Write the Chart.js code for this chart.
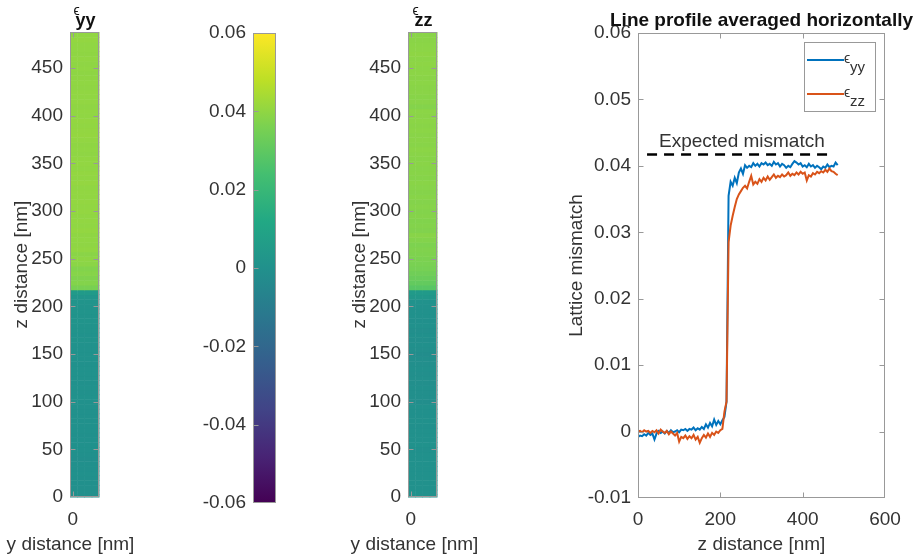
<!DOCTYPE html>
<html>
<head>
<meta charset="utf-8">
<script src="https://cdn.jsdelivr.net/npm/chart.js@4.4.1/dist/chart.umd.min.js"></script>
<style>
  html, body { margin: 0; padding: 0; background: #fff; }
  #wrap { position: relative; width: 914px; height: 558px; overflow: hidden; }
  canvas { position: absolute; top: 0; }
</style>
</head>
<body>
<div id="wrap">
  <canvas id="mapYY" width="190" height="558" style="left:0px"></canvas>
  <canvas id="cbar" width="120" height="558" style="left:180px"></canvas>
  <canvas id="mapZZ" width="200" height="558" style="left:320px"></canvas>
  <canvas id="profile" width="394" height="558" style="left:520px"></canvas>
</div>
<script>
// ---- data (z in nm, strain values) ----
const zNm = [
  0, 5, 10, 15, 20, 25, 30, 35, 40, 45,
  50, 55, 60, 65, 70, 75, 80, 85, 90, 95,
  100, 105, 110, 115, 120, 125, 130, 135, 140, 145,
  150, 155, 160, 165, 170, 175, 180, 185, 190, 195,
  200, 205, 210, 215, 220, 225, 230, 235, 240, 245,
  250, 255, 260, 265, 270, 275, 280, 285, 290, 295,
  300, 305, 310, 315, 320, 325, 330, 335, 340, 345,
  350, 355, 360, 365, 370, 375, 380, 385, 390, 395,
  400, 405, 410, 415, 420, 425, 430, 435, 440, 445,
  450, 455, 460, 465, 470, 475, 480, 485
];
const epsYY = [
  -0.0008, -0.0006, -0.0007, -0.0004, -0.0006, -0.0002, -0.0005, -0.0003, -0.0012, -0.0003,
  0.0001, -0.0002, 0.0000, -0.0003, 0.0001, -0.0002, 0.0002, -0.0001, 0.0000, 0.0002,
  -0.0001, 0.0003, 0.0002, 0.0004, 0.0001, 0.0004, 0.0003, 0.0006, 0.0002, 0.0005,
  0.0003, 0.0007, 0.0004, 0.0011, 0.0006, 0.0013, 0.0008, 0.0018, 0.0010, 0.0016,
  0.0011, 0.0017, 0.0022, 0.0045, 0.0355, 0.0376, 0.0370, 0.0382, 0.0374, 0.0390,
  0.0396, 0.0388, 0.0401, 0.0397, 0.0400, 0.0398, 0.0404, 0.0400, 0.0403, 0.0399,
  0.0404, 0.0402, 0.0405, 0.0401, 0.0403, 0.0400, 0.0406, 0.0402, 0.0404, 0.0399,
  0.0403, 0.0401, 0.0397, 0.0400, 0.0398, 0.0403, 0.0407, 0.0405, 0.0402, 0.0404,
  0.0399, 0.0401, 0.0398, 0.0403, 0.0399, 0.0401, 0.0397, 0.0400, 0.0398, 0.0395,
  0.0399, 0.0397, 0.0402, 0.0398, 0.0400, 0.0399, 0.0405, 0.0401
];
const epsZZ = [
  0.0000, 0.0001, -0.0001, 0.0002, 0.0000, 0.0001, -0.0002, 0.0001, -0.0001, 0.0002,
  -0.0003, 0.0003, 0.0000, -0.0002, 0.0001, -0.0004, 0.0000, -0.0003, -0.0006, -0.0002,
  -0.0015, -0.0008, -0.0010, -0.0006, -0.0011, -0.0007, -0.0010, -0.0005, -0.0012, -0.0008,
  -0.0017, -0.0010, -0.0005, -0.0009, -0.0003, -0.0008, -0.0002, -0.0005, 0.0000, -0.0002,
  0.0002, 0.0004, 0.0030, 0.0045, 0.0285, 0.0310, 0.0325, 0.0338, 0.0350, 0.0357,
  0.0362, 0.0367, 0.0370, 0.0366, 0.0376, 0.0385, 0.0372, 0.0376, 0.0373, 0.0380,
  0.0376, 0.0382, 0.0378, 0.0384, 0.0379, 0.0383, 0.0387, 0.0382, 0.0385, 0.0383,
  0.0387, 0.0384, 0.0386, 0.0390, 0.0385, 0.0388, 0.0386, 0.0390, 0.0387, 0.0391,
  0.0388, 0.0390, 0.0378, 0.0386, 0.0384, 0.0389, 0.0387, 0.0391, 0.0389, 0.0392,
  0.0390, 0.0394, 0.0391, 0.0396, 0.0392, 0.0391, 0.0388, 0.0386
];
const seriesNames = ['yy', 'zz'];
const expectedZ = [22, 461];
const expectedMismatch = [0.0417, 0.0417];
const expectedLabel = 'Expected mismatch';
const expectedLabelAt = [51, 0.0429];

// map axes / colour scale
const zExtent = 488;
const mapColumnsNm = [-3, 4.6, 12.2, 19.9, 27.5];
const mapZTicks = [0, 50, 100, 150, 200, 250, 300, 350, 400, 450];
const mapYTicks = [0];
const colorLimits = [-0.06, 0.06];
const cbarTicks = [-0.06, -0.04, -0.02, 0, 0.02, 0.04, 0.06];
const profileXTicks = [0, 200, 400, 600];
const profileYTicks = [-0.01, 0, 0.01, 0.02, 0.03, 0.04, 0.05, 0.06];

// ---- style ----
const FONT = "'Liberation Sans', Arial, sans-serif";
const TEXT = '#333333';
const AXIS = '#999999';
const BLUE = '#0072BD';
const ORANGE = '#D95319';
const EPS = '\u03F5';
const TICK = 5;

Chart.defaults.font.family = FONT;
Chart.defaults.font.size = 19;
Chart.defaults.color = TEXT;

const VIRIDIS = ['#440154', '#482475', '#414487', '#355f8d', '#2a788e', '#21918c',
                 '#22a884', '#44bf70', '#7ad151', '#bddf26', '#fde725'];
function hexRgb(h) { return [1, 3, 5].map(i => parseInt(h.substr(i, 2), 16)); }
function viridis(t) {
  t = Math.min(1, Math.max(0, t));
  const f = t * 10, i = Math.min(9, Math.floor(f)), r = f - i;
  const a = hexRgb(VIRIDIS[i]), b = hexRgb(VIRIDIS[i + 1]);
  return 'rgb(' + a.map((v, k) => Math.round(v + (b[k] - v) * r)).join(',') + ')';
}
function colorFor(v) { return viridis((v - colorLimits[0]) / (colorLimits[1] - colorLimits[0])); }

function fixedTicks(values) { return s => { s.ticks = values.map(v => ({ value: v })); }; }
function fmtStrain(v) { return v === 0 ? '0' : v.toFixed(2); }
const noGrid = { display: false, drawTicks: false };

// box round the axes plus matlab style inward ticks
function framePlugin(sides) {
  return {
    id: 'frame',
    afterDatasetsDraw(chart) {
      const { ctx, chartArea: a } = chart;
      const L = Math.round(a.left) + 0.5, R = Math.round(a.right) - 0.5;
      const T = Math.round(a.top) + 0.5, B = Math.round(a.bottom) - 0.5;
      ctx.save();
      ctx.strokeStyle = AXIS;
      ctx.lineWidth = 1;
      ctx.strokeRect(L, T, R - L, B - T);
      ctx.beginPath();
      const xs = chart.scales.x, ys = chart.scales.y;
      if (sides.x) xs.ticks.forEach(t => {
        const p = Math.round(xs.getPixelForValue(t.value)) + 0.5;
        if (p < L + 2 || p > R - 2) return;
        if (sides.x.includes('bottom')) { ctx.moveTo(p, B); ctx.lineTo(p, B - TICK); }
        if (sides.x.includes('top')) { ctx.moveTo(p, T); ctx.lineTo(p, T + TICK); }
      });
      if (sides.y) ys.ticks.forEach(t => {
        const p = Math.round(ys.getPixelForValue(t.value)) + 0.5;
        if (p < T + 2 || p > B - 2) return;
        if (sides.y.includes('left')) { ctx.moveTo(L, p); ctx.lineTo(L + TICK, p); }
        if (sides.y.includes('right')) { ctx.moveTo(R, p); ctx.lineTo(R - TICK, p); }
      });
      ctx.stroke();
      ctx.restore();
    }
  };
}

function heatmapPlugin(values) {
  return {
    id: 'heatmap',
    beforeDatasetsDraw(chart) {
      const { ctx } = chart;
      const xs = chart.scales.x, ys = chart.scales.y;
      ctx.save();
      for (let i = 0; i < zNm.length; i++) {
        const z0 = i === 0 ? ys.min : (zNm[i - 1] + zNm[i]) / 2;
        const z1 = i === zNm.length - 1 ? ys.max : (zNm[i] + zNm[i + 1]) / 2;
        const yTop = ys.getPixelForValue(z1), yBot = ys.getPixelForValue(z0);
        ctx.fillStyle = colorFor(values[i]);
        for (let c = 0; c < mapColumnsNm.length - 1; c++) {
          const x0 = xs.getPixelForValue(mapColumnsNm[c]);
          const x1 = xs.getPixelForValue(mapColumnsNm[c + 1]);
          ctx.fillRect(x0, yTop, x1 - x0 + 0.5, yBot - yTop + 0.5);
        }
      }
      ctx.restore();
    }
  };
}

function mapTextPlugin(sub, labelShift) {
  return {
    id: 'mapText',
    afterDraw(chart) {
      const { ctx, chartArea: a } = chart;
      const cx = (a.left + a.right) / 2;
      ctx.save();
      ctx.fillStyle = '#111';
      ctx.textAlign = 'left';
      ctx.textBaseline = 'alphabetic';
      ctx.font = 'bold 18px ' + FONT;
      const w = ctx.measureText(sub).width;
      const sx = cx - w / 2 + 1;
      ctx.fillText(sub, sx, 26);
      ctx.font = '14px ' + FONT;
      ctx.fillText(EPS, sx - 2, 15);
      ctx.fillStyle = TEXT;
      ctx.font = '19px ' + FONT;
      ctx.textAlign = 'center';
      ctx.textBaseline = 'middle';
      ctx.fillText('y distance [nm]', cx + labelShift, 545);
      ctx.restore();
    }
  };
}

const noInteraction = {
  responsive: false, animation: false, devicePixelRatio: 1, events: [],
};

function makeMap(id, values, sub, padL, padR, labelShift) {
  return new Chart(document.getElementById(id), {
    type: 'scatter',
    data: { datasets: [] },
    options: {
      ...noInteraction,
      layout: { padding: { left: padL, right: padR, top: 32, bottom: 0 } },
      plugins: { legend: { display: false }, tooltip: { enabled: false } },
      scales: {
        x: {
          type: 'linear', min: mapColumnsNm[0], max: mapColumnsNm[mapColumnsNm.length - 1],
          afterBuildTicks: fixedTicks(mapYTicks),
          afterFit: s => { s.height = 61; },
          grid: noGrid, border: { display: false },
          ticks: { padding: 11, maxRotation: 0, autoSkip: false }
        },
        y: {
          type: 'linear', min: 0, max: zExtent,
          afterBuildTicks: fixedTicks(mapZTicks),
          afterFit: s => { s.width = 70; },
          grid: noGrid, border: { display: false },
          ticks: { padding: 7, autoSkip: false },
          title: { display: true, text: 'z distance [nm]', padding: { top: 10, bottom: 0 } }
        }
      }
    },
    plugins: [heatmapPlugin(values), framePlugin({ x: ['top', 'bottom'], y: ['left', 'right'] }),
              mapTextPlugin(sub, labelShift)]
  });
}

makeMap('mapYY', epsYY, seriesNames[0], 0, 91, -14);
makeMap('mapZZ', epsZZ, seriesNames[1], 18, 83, -8);

// colour bar
new Chart(document.getElementById('cbar'), {
  type: 'scatter',
  data: { datasets: [] },
  options: {
    ...noInteraction,
    layout: { padding: { left: 0, right: 24, top: 33, bottom: 55 } },
    plugins: { legend: { display: false }, tooltip: { enabled: false } },
    scales: {
      x: { display: false, min: 0, max: 1 },
      y: {
        type: 'linear', min: colorLimits[0], max: colorLimits[1],
        afterBuildTicks: fixedTicks(cbarTicks),
        afterFit: s => { s.width = 73; },
        grid: noGrid, border: { display: false },
        ticks: { padding: 7, autoSkip: false, callback: fmtStrain }
      }
    }
  },
  plugins: [{
    id: 'gradient',
    beforeDatasetsDraw(chart) {
      const { ctx, chartArea: a } = chart;
      const ys = chart.scales.y;
      const g = ctx.createLinearGradient(0, ys.getPixelForValue(colorLimits[0]), 0, ys.getPixelForValue(colorLimits[1]));
      VIRIDIS.forEach((c, i) => g.addColorStop(i / (VIRIDIS.length - 1), c));
      ctx.save();
      ctx.fillStyle = g;
      ctx.fillRect(a.left, a.top, a.right - a.left, a.bottom - a.top);
      ctx.restore();
    }
  }, framePlugin({ y: ['left'] })]
});

// line profile
new Chart(document.getElementById('profile'), {
  type: 'line',
  data: {
    datasets: [
      { label: seriesNames[0], data: zNm.map((z, i) => ({ x: z, y: epsYY[i] })),
        borderColor: BLUE, borderWidth: 2, pointRadius: 0, tension: 0, order: 1 },
      { label: seriesNames[1], data: zNm.map((z, i) => ({ x: z, y: epsZZ[i] })),
        borderColor: ORANGE, borderWidth: 2, pointRadius: 0, tension: 0, order: 0 },
      { label: 'expected', data: expectedZ.map((z, i) => ({ x: z, y: expectedMismatch[i] })),
        borderColor: '#000', borderWidth: 2.5, borderDash: [10, 7], pointRadius: 0, order: 2 }
    ]
  },
  options: {
    ...noInteraction,
    layout: { padding: { left: 0, right: 29, top: 33, bottom: 0 } },
    plugins: { legend: { display: false }, tooltip: { enabled: false } },
    scales: {
      x: {
        type: 'linear', min: 0, max: 600,
        afterBuildTicks: fixedTicks(profileXTicks),
        afterFit: s => { s.height = 60; },
        grid: noGrid, border: { display: false },
        ticks: { padding: 10, maxRotation: 0, autoSkip: false },
        title: { display: true, text: 'z distance [nm]', padding: { top: 0, bottom: 2 } }
      },
      y: {
        type: 'linear', min: -0.01, max: 0.06,
        afterBuildTicks: fixedTicks(profileYTicks),
        afterFit: s => { s.width = 118; },
        grid: noGrid, border: { display: false },
        ticks: { padding: 7, autoSkip: false, callback: fmtStrain },
        title: { display: true, text: 'Lattice mismatch', padding: { top: 45, bottom: 0 } }
      }
    }
  },
  plugins: [framePlugin({ x: ['top', 'bottom'], y: ['left', 'right'] }), {
    id: 'profileText',
    afterDraw(chart) {
      const { ctx, chartArea: a } = chart;
      const xs = chart.scales.x, ys = chart.scales.y;
      ctx.save();
      // title
      ctx.fillStyle = '#111';
      ctx.font = 'bold 19px ' + FONT;
      ctx.textAlign = 'center';
      ctx.textBaseline = 'alphabetic';
      ctx.fillText('Line profile averaged horizontally', (a.left + a.right) / 2, 26);
      // expected mismatch label
      ctx.fillStyle = TEXT;
      ctx.font = '19px ' + FONT;
      ctx.textAlign = 'left';
      ctx.fillText(expectedLabel, xs.getPixelForValue(expectedLabelAt[0]), ys.getPixelForValue(expectedLabelAt[1]));
      // legend
      const bw = 71, bh = 69;
      const bx = Math.round(a.right) - 10 - bw, by = Math.round(a.top) + 9;
      ctx.fillStyle = '#fff';
      ctx.fillRect(bx, by, bw, bh);
      ctx.strokeStyle = AXIS;
      ctx.lineWidth = 1;
      ctx.strokeRect(bx + 0.5, by + 0.5, bw, bh);
      seriesNames.forEach((name, i) => {
        const ds = chart.data.datasets[i];
        const ry = by + 18 + i * 34;
        ctx.strokeStyle = ds.borderColor;
        ctx.lineWidth = 2;
        ctx.beginPath();
        ctx.moveTo(bx + 3, ry);
        ctx.lineTo(bx + 40, ry);
        ctx.stroke();
        ctx.fillStyle = TEXT;
        ctx.font = '14px ' + FONT;
        ctx.fillText(EPS, bx + 40, ry + 3);
        ctx.font = '15px ' + FONT;
        ctx.fillText(name, bx + 46, ry + 12);
      });
      ctx.restore();
    }
  }]
});
</script>
</body>
</html>
